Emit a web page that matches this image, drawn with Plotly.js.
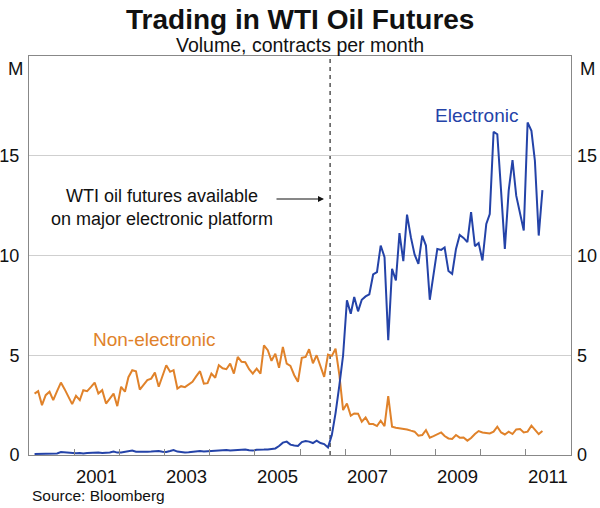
<!DOCTYPE html>
<html>
<head>
<meta charset="utf-8">
<script src="https://cdn.plot.ly/plotly-3.0.1.min.js"></script>
<style>html,body{margin:0;padding:0;background:#fff;}#chart{width:600px;height:508px;}</style>
</head>
<body>
<div id="chart"></div>
<script>
// Monthly data, Feb 2000 to May 2011 (millions of contracts per month)
var startYear = 2000;
var startMonth = 2; // February
var nonElectronic = [
  3.08, 3.2, 2.5, 3.0, 3.17, 2.75, 3.2, 3.63, 3.3, 2.9, 2.55, 2.97,
  2.75, 3.25, 3.2, 3.4, 3.63, 3.08, 3.25, 2.58, 2.8, 3.08, 2.45, 3.42,
  3.17, 3.9, 4.25, 4.2, 3.28, 3.5, 3.75, 3.83, 4.13, 3.42, 4.0, 4.5,
  4.17, 4.25, 3.33, 3.45, 3.4, 3.55, 3.67, 3.95, 4.2, 3.58, 3.6, 4.08,
  3.87, 4.5, 4.35, 4.3, 4.58, 4.08, 4.92, 4.67, 4.65, 4.3, 4.08, 4.33,
  4.08, 5.5, 5.25, 4.72, 5.08, 4.37, 5.42, 4.58, 4.47, 4.0, 3.67, 4.87,
  4.92, 5.3, 4.6, 5.0, 4.4, 3.92, 5.03, 4.97, 5.33, 4.0, 2.25, 2.58,
  1.97, 2.08, 2.07, 1.67, 1.88, 1.55, 1.55, 1.45, 1.72, 1.45, 2.95, 1.42,
  1.37, 1.35, 1.32, 1.28, 1.22, 1.17, 0.97, 1.0, 1.25, 0.87, 0.95, 1.05,
  1.13, 0.95, 0.83, 0.8, 1.0, 0.87, 0.88, 0.72, 0.85, 1.05, 1.2, 1.13,
  1.1, 1.08, 1.17, 1.42, 1.13, 1.03, 1.17, 1.05, 1.28, 1.3, 1.13, 1.17,
  1.47, 1.25, 1.05, 1.2
];
var electronic = [
  0.05, 0.05, 0.06, 0.05, 0.06, 0.07, 0.08, 0.15, 0.13, 0.1, 0.1, 0.09,
  0.1, 0.08, 0.1, 0.11, 0.1, 0.12, 0.1, 0.1, 0.13, 0.17, 0.12, 0.13,
  0.15, 0.18, 0.22, 0.16, 0.15, 0.17, 0.16, 0.17, 0.18, 0.2, 0.16, 0.15,
  0.2, 0.25, 0.17, 0.14, 0.13, 0.14, 0.16, 0.18, 0.2, 0.18, 0.19, 0.2,
  0.22, 0.2, 0.23, 0.25, 0.22, 0.24, 0.27, 0.26, 0.28, 0.24, 0.22, 0.26,
  0.28, 0.27, 0.28, 0.3, 0.33, 0.45, 0.62, 0.67, 0.52, 0.48, 0.45, 0.65,
  0.7, 0.67, 0.6, 0.72, 0.6, 0.55, 0.38, 1.0, 2.1, 3.5, 5.0, 7.75,
  7.08, 7.92, 7.2, 7.78, 7.95, 8.05, 9.05, 9.17, 10.5, 9.92, 5.75, 9.33,
  8.75, 11.12, 9.72, 12.05, 10.92, 10.05, 9.58, 11.0, 10.5, 7.78, 9.0, 10.33,
  10.28, 10.4, 9.22, 9.08, 10.33, 11.03, 10.88, 10.67, 12.17, 10.47, 10.62, 9.75,
  11.58, 12.08, 16.2, 16.08, 13.2, 10.33, 13.25, 14.78, 13.0, 12.1, 11.25, 16.67,
  16.25, 14.75, 11.0, 13.28
];
var yTicks = [0, 5, 10, 15];
var yearTicks = ['2001-01-01','2002-01-01','2003-01-01','2004-01-01','2005-01-01','2006-01-01',
                 '2007-01-01','2008-01-01','2009-01-01','2010-01-01','2011-01-01'];
var yearLabels = ['2001','2003','2005','2007','2009','2011'];
var yearLabelPos = ['2001-07-01','2003-07-01','2005-07-01','2007-07-01','2009-07-01','2011-07-01'];
var platformDate = '2006-09-01';

var dates = [];
for (var i = 0; i < electronic.length; i++) {
  var mIdx = (startMonth - 1) + i;
  var yr = startYear + Math.floor(mIdx / 12);
  var mo = (mIdx % 12) + 1;
  dates.push(yr + '-' + (mo < 10 ? '0' + mo : mo) + '-15');
}

var FONT = 'Liberation Sans, Arial, Helvetica, sans-serif';
var BLUE = '#2443a8';
var ORANGE = '#e0822a';
var PT = 56, PB = 455, PL = 29, PR = 571;
function py(p) { return (PB - p) / (PB - PT); }
function px(p) { return (p - PL) / (PR - PL); }

var traces = [
  {x: dates, y: nonElectronic, type: 'scatter', mode: 'lines',
   line: {color: ORANGE, width: 2}, hoverinfo: 'skip'},
  {x: dates, y: electronic, type: 'scatter', mode: 'lines',
   line: {color: BLUE, width: 2}, hoverinfo: 'skip'},
  {x: [dates[0]], y: [0], yaxis: 'y2', type: 'scatter', mode: 'markers',
   marker: {opacity: 0}, hoverinfo: 'skip', showlegend: false}
];

var annotations = [
  {text: '<b>Trading in WTI Oil Futures</b>', xref: 'paper', yref: 'paper', x: 0.5, y: py(19),
   xanchor: 'center', yanchor: 'middle', showarrow: false, font: {family: FONT, size: 28, color: '#111'}},
  {text: 'Volume, contracts per month', xref: 'paper', yref: 'paper', x: 0.5, y: py(45),
   xanchor: 'center', yanchor: 'middle', showarrow: false, font: {family: FONT, size: 19.5, color: '#111'}},
  {text: 'M', xref: 'paper', yref: 'paper', x: px(15), y: py(68),
   xanchor: 'center', yanchor: 'middle', showarrow: false, font: {family: FONT, size: 18.5, color: '#111'}},
  {text: 'M', xref: 'paper', yref: 'paper', x: px(587), y: py(68),
   xanchor: 'center', yanchor: 'middle', showarrow: false, font: {family: FONT, size: 18.5, color: '#111'}},
  {text: 'Source: Bloomberg', xref: 'paper', yref: 'paper', x: px(30), y: py(495),
   xanchor: 'left', yanchor: 'middle', showarrow: false, font: {family: FONT, size: 15.5, color: '#111'}},
  {text: 'Electronic', xref: 'paper', yref: 'paper', x: px(433), y: py(115),
   xanchor: 'left', yanchor: 'middle', showarrow: false, font: {family: FONT, size: 19, color: BLUE}},
  {text: 'Non-electronic', xref: 'paper', yref: 'paper', x: px(91), y: py(339),
   xanchor: 'left', yanchor: 'middle', showarrow: false, font: {family: FONT, size: 19, color: ORANGE}},
  {text: 'WTI oil futures available<br>on major electronic platform', xref: 'paper', yref: 'paper',
   x: px(162), y: py(207), xanchor: 'center', yanchor: 'middle', align: 'center', showarrow: false,
   font: {family: FONT, size: 18, color: '#111'}},
  {text: '', xref: 'paper', yref: 'paper', x: px(324), y: py(199), ax: -49, ay: 0,
   showarrow: true, arrowhead: 2, arrowsize: 1, arrowwidth: 1.2, arrowcolor: '#111'}
];
for (var j = 0; j < yearLabels.length; j++) {
  annotations.push({text: yearLabels[j], xref: 'x', yref: 'paper', x: yearLabelPos[j], y: py(476),
    xanchor: 'center', yanchor: 'middle', showarrow: false, font: {family: FONT, size: 18.5, color: '#111'}});
}

var layout = {
  width: 600, height: 508,
  margin: {l: PL, r: 600 - PR, t: PT, b: 508 - PB, pad: 0},
  paper_bgcolor: '#fff', plot_bgcolor: '#fff',
  showlegend: false,
  font: {family: FONT, size: 18, color: '#111'},
  xaxis: {type: 'date', range: ['2000-01-01', '2012-01-01'], tickmode: 'array', tickvals: yearTicks,
    showticklabels: false, ticks: 'inside', ticklen: 6, tickwidth: 1, tickcolor: '#888',
    showgrid: false, zeroline: false, showline: true, linecolor: '#888', linewidth: 1, mirror: true, fixedrange: true},
  yaxis: {range: [0, 20], tickmode: 'array', tickvals: yTicks, ticktext: yTicks.map(String),
    ticks: '', ticklabelstandoff: 5, showgrid: true, gridcolor: '#cfcfcf', gridwidth: 1,
    zeroline: false, showline: true, linecolor: '#888', linewidth: 1, mirror: true,
    tickfont: {family: FONT, size: 18, color: '#111'}, fixedrange: true},
  yaxis2: {range: [0, 20], overlaying: 'y', side: 'right', tickmode: 'array', tickvals: yTicks,
    ticktext: yTicks.map(String), ticks: '', ticklabelstandoff: 5, showgrid: false, zeroline: false,
    showline: false, tickfont: {family: FONT, size: 18, color: '#111'}, fixedrange: true},
  shapes: [
    {type: 'line', xref: 'x', yref: 'paper', x0: platformDate, x1: platformDate, y0: 0, y1: 1,
     line: {color: '#555', width: 1.5, dash: '4px,4px'}, layer: 'below'}
  ],
  annotations: annotations
};

Plotly.newPlot('chart', traces, layout, {staticPlot: true, displayModeBar: false});
</script>
</body>
</html>
